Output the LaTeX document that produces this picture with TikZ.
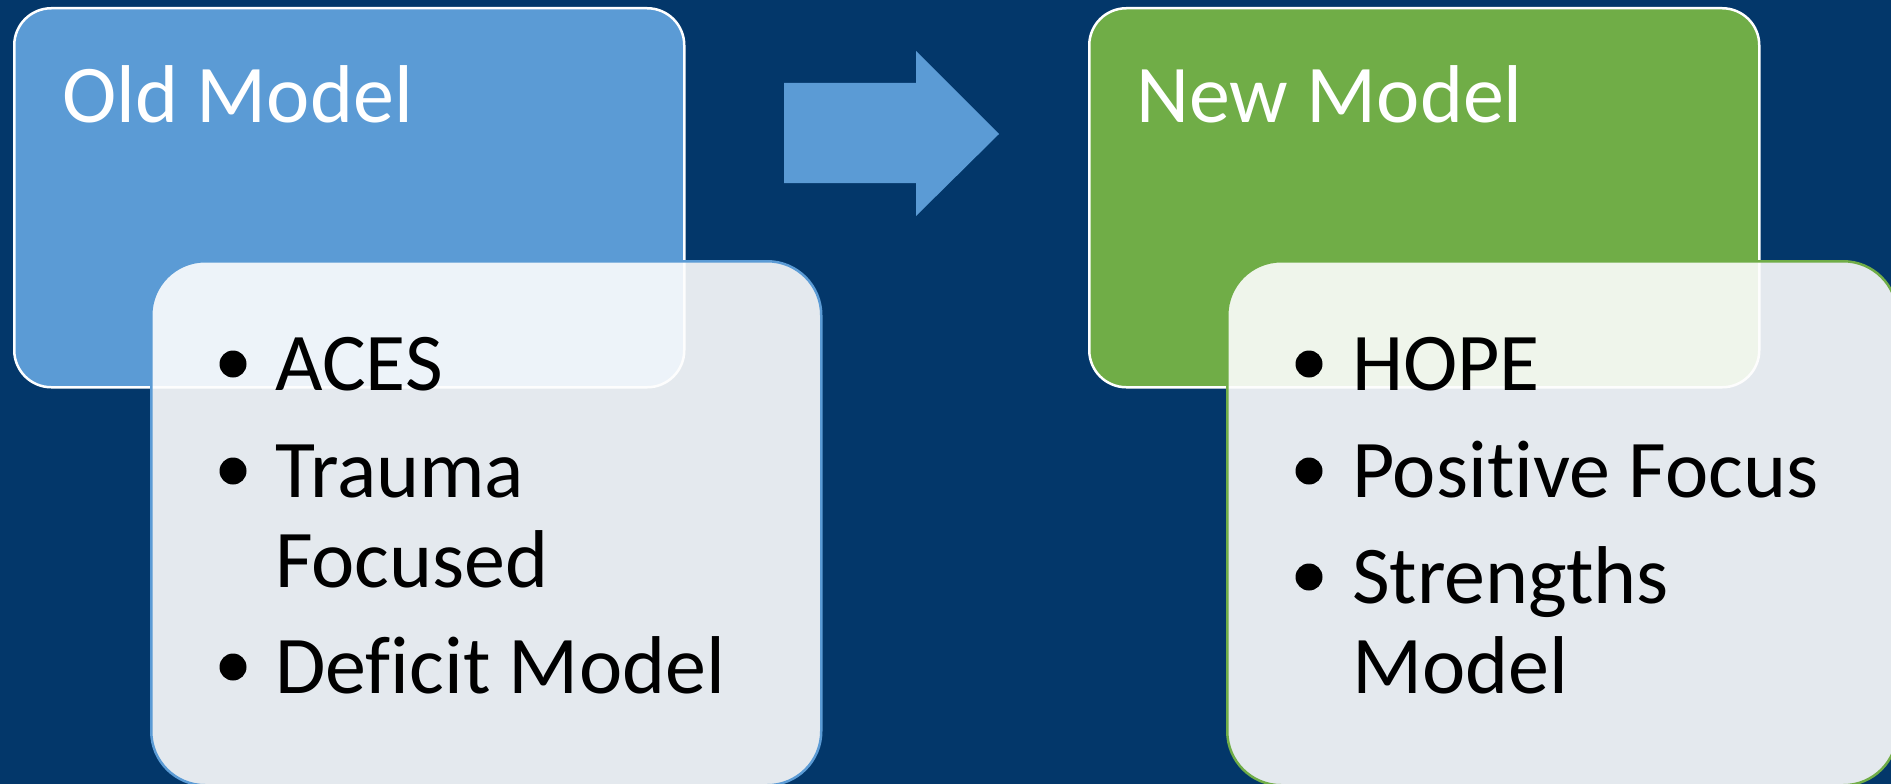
\documentclass[tikz,border=0pt]{standalone}
\usepackage{fontspec}
\setmainfont[Ligatures=NoCommon]{Carlito}
\definecolor{navy}{RGB}{3,55,106}
\definecolor{oldblue}{RGB}{91,155,213}
\definecolor{newgreen}{RGB}{112,173,71}
\definecolor{panel}{RGB}{253,253,253}
\tikzset{
  headbox/.style={draw=white, line width=2.5pt, rounded corners=37pt,
    minimum width=670pt, minimum height=379pt, anchor=north west, inner sep=0pt},
  listbox/.style={line width=2.5pt, rounded corners=54pt, fill=panel, fill opacity=0.9,
    minimum width=670pt, minimum height=524pt, anchor=north west, inner sep=0pt},
  title/.style={text=white, font=\fontsize{82}{90}\selectfont, anchor=base west, inner sep=0pt},
  itemtext/.style={text=black, font=\fontsize{82}{90}\selectfont, anchor=base west, inner sep=0pt},
  dot/.style={circle, fill=black, minimum size=27pt, inner sep=0pt},
}
\begin{document}
\begin{tikzpicture}[x=1pt,y=-1pt]
\fill[navy] (0,0) rectangle (1891,784);
\useasboundingbox (0,0) rectangle (1891,784);

% left column: old model
\node[headbox, fill=oldblue] (oldhead) at (13,7) {};
\node[listbox, draw=oldblue] (oldlist) at (150,260) {};
\node[title] (oldtitle) at (62,122) {Old Model};
\node[dot] (ob1) at (233,364) {};
\node[itemtext] (o1) at (275,390) {ACES};
\node[dot] (ob2) at (233,471) {};
\node[itemtext] (o2) at (275,497) {Trauma};
\node[itemtext] (o2b) at (275,587) {Focused};
\node[dot] (ob3) at (233,667) {};
\node[itemtext] (o3) at (275,693) {Deficit Model};

% transition arrow
\fill[oldblue] (784,83) -- (916,83) -- (916,51) -- (999,134) -- (916,216) -- (916,183) -- (784,183) -- cycle;

% right column: new model
\node[headbox, fill=newgreen] (newhead) at (1088,7) {};
\node[listbox, draw=newgreen] (newlist) at (1226,260) {};
\node[title] (newtitle) at (1136,122) {New Model};
\node[dot] (nb1) at (1309,364) {};
\node[itemtext] (n1) at (1352,390) {HOPE};
\node[dot] (nb2) at (1309,471) {};
\node[itemtext] (n2) at (1352,497) {Positive Focus};
\node[dot] (nb3) at (1309,577) {};
\node[itemtext] (n3) at (1352,603) {Strengths};
\node[itemtext] (n3b) at (1352,693) {Model};
\end{tikzpicture}
\end{document}
